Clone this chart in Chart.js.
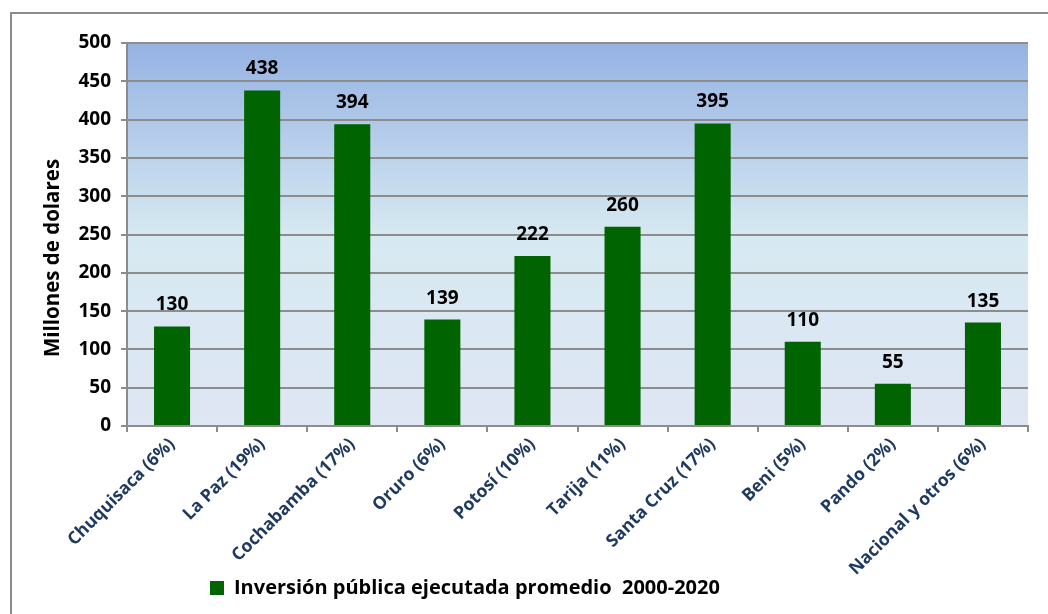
<!DOCTYPE html>
<html>
<head>
<meta charset="utf-8">
<script src="https://cdn.jsdelivr.net/npm/chart.js@4.4.1/dist/chart.umd.min.js"></script>
<style>
  body { margin: 0; background: #fff; }
  #wrap { width: 1048px; height: 614px; position: relative; }
</style>
</head>
<body>
<div id="wrap"><canvas id="inversionChart"></canvas></div>
<script>
const departamentos = [
    'Chuquisaca (6%)', 'La Paz (19%)', 'Cochabamba (17%)', 'Oruro (6%)', 'Potosí (10%)',
    'Tarija (11%)', 'Santa Cruz (17%)', 'Beni (5%)', 'Pando (2%)', 'Nacional y otros (6%)'
];
const inversionPromedio = [130, 438, 394, 139, 222, 260, 395, 110, 55, 135];
const serieLabel = 'Inversión pública ejecutada promedio  2000-2020';
const yTitle = 'Millones de dolares';

const FONT = '"Open Sans"';

// frame around the whole figure + gradient behind the plot area
const backgroundPlugin = {
    id: 'fondo',
    beforeDraw(chart) {
        const ctx = chart.ctx;
        const a = chart.chartArea;
        ctx.save();
        ctx.strokeStyle = '#8c8c8c';
        ctx.lineWidth = 2;
        ctx.strokeRect(11, 13, 1200, 800);
        const g = ctx.createLinearGradient(0, a.top, 0, a.bottom);
        g.addColorStop(0, '#95b2e3');
        g.addColorStop(0.5, '#d6e9f1');
        g.addColorStop(1, '#dfe6f4');
        ctx.fillStyle = g;
        ctx.fillRect(a.left, a.top, a.right - a.left, a.bottom - a.top);
        ctx.restore();
    }
};

// value labels over every bar, plus the vertical axis title
const valueLabels = {
    id: 'valores',
    afterDatasetsDraw(chart) {
        const ctx = chart.ctx;
        const meta = chart.getDatasetMeta(0);
        ctx.save();
        ctx.font = 'bold 19px ' + FONT;
        ctx.fillStyle = '#000';
        ctx.textAlign = 'center';
        ctx.textBaseline = 'alphabetic';
        meta.data.forEach((bar, i) => {
            ctx.fillText(chart.data.datasets[0].data[i], bar.x, bar.y - 16);
        });
        ctx.translate(53, 258);
        ctx.rotate(-Math.PI / 2);
        ctx.textBaseline = 'middle';
        ctx.font = 'bold 20.5px ' + FONT;
        ctx.fillText(yTitle, 0, 0);
        ctx.restore();
    }
};

// legend sits left of centre; long rotated labels may run past the x box
const layoutTweaks = {
    id: 'layoutTweaks',
    afterLayout(chart) {
        chart.legend.left = 200;
        chart.scales.x.bottom = chart.height;
    }
};

new Chart(document.getElementById('inversionChart'), {
    type: 'bar',
    data: {
        labels: departamentos,
        datasets: [{
            label: serieLabel,
            data: inversionPromedio,
            backgroundColor: '#006400',
            borderWidth: 0,
            barPercentage: 0.4,
            categoryPercentage: 1
        }]
    },
    options: {
        responsive: true,
        maintainAspectRatio: false,
        animation: false,
        layout: { padding: { top: 43, right: 20, left: 0, bottom: 6 } },
        plugins: {
            tooltip: { enabled: false },
            legend: {
                position: 'bottom',
                align: 'start',
                labels: {
                    boxWidth: 14,
                    boxHeight: 14,
                    padding: 10,
                    color: '#000',
                    font: { family: FONT, size: 20, weight: 'bold' }
                }
            }
        },
        scales: {
            x: {
                grid: {
                    drawOnChartArea: false,
                    drawTicks: true,
                    tickLength: 6,
                    color: '#8c8c8c',
                    lineWidth: 2
                },
                border: { color: '#8c8c8c', width: 2 },
                ticks: {
                    minRotation: 45,
                    maxRotation: 45,
                    padding: 2,
                    color: '#1f3a60',
                    font: { family: FONT, size: 17.5, weight: 'bold' }
                },
                afterFit(scale) { scale.height = 142; }
            },
            y: {
                min: 0,
                max: 500,
                grid: {
                    color: '#8c8c8c',
                    lineWidth: 2,
                    tickLength: 6
                },
                border: { color: '#8c8c8c', width: 2 },
                ticks: {
                    stepSize: 50,
                    padding: 10,
                    color: '#000',
                    font: { family: FONT, size: 19, weight: 'bold' }
                },
                afterFit(scale) { scale.width = 127; }
            }
        }
    },
    plugins: [backgroundPlugin, valueLabels, layoutTweaks]
});
</script>
</body>
</html>
